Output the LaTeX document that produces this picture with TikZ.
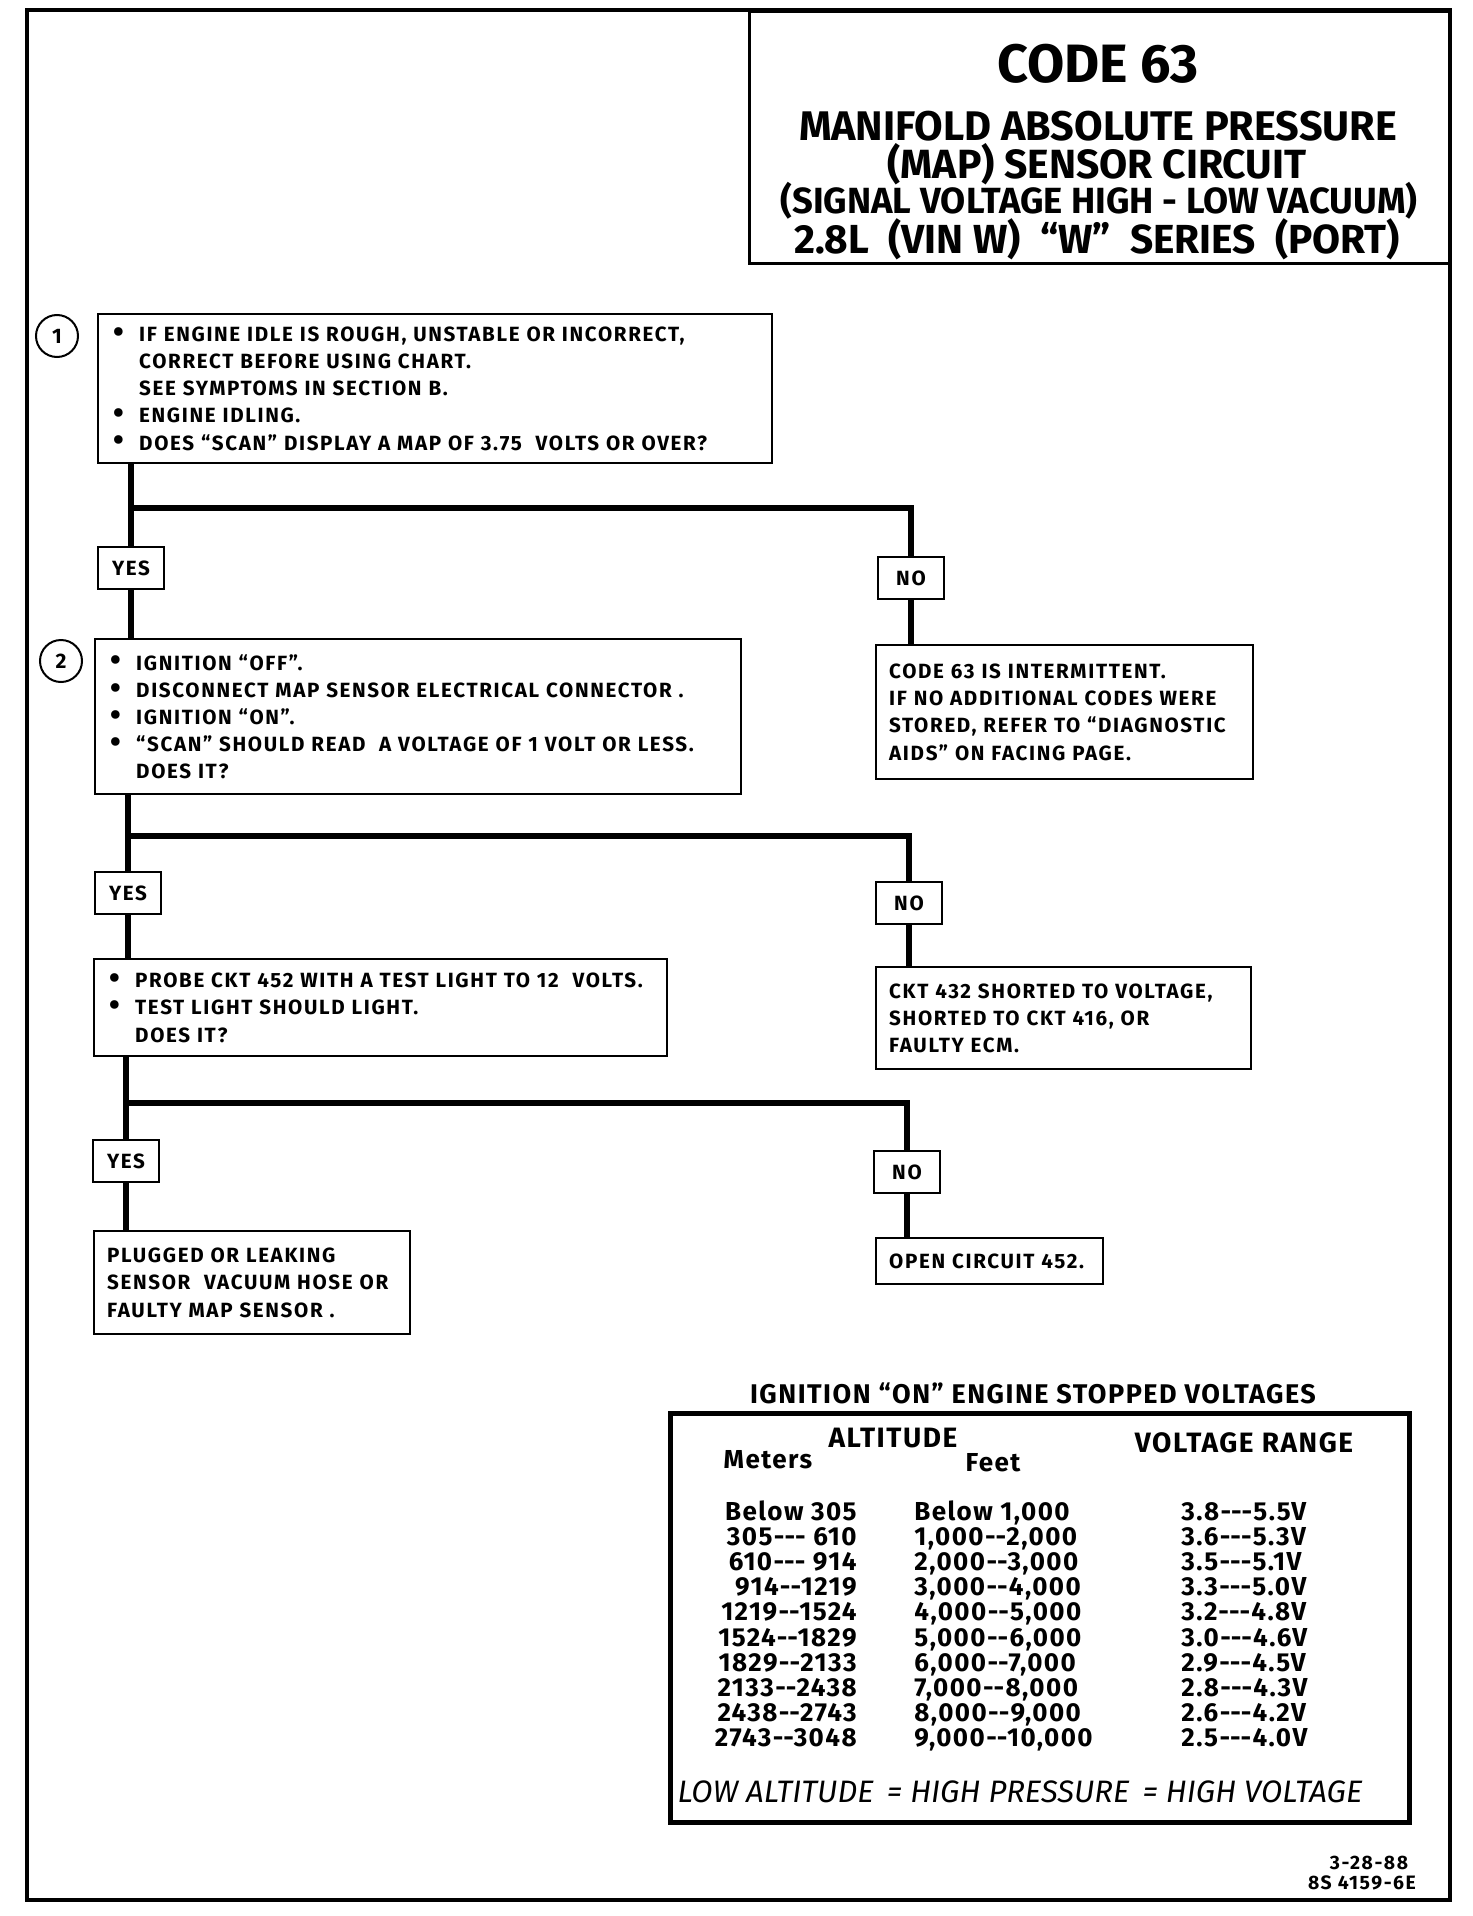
\documentclass[tikz,border=0pt]{standalone}
\usepackage{fontspec}
\setmainfont{Fira Sans}
\newfontfamily\spacedfamily{Fira Sans}[LetterSpace=8]
\newfontfamily\tabfamily{Fira Sans}[LetterSpace=5.5]

\newcommand{\boxfont}{\spacedfamily\bfseries\fontsize{10.3}{13.6}\selectfont}
\newcommand{\tabfont}{\tabfamily\bfseries\fontsize{13}{13}\selectfont}
\newcommand{\bul}{\makebox[13pt][l]{\raisebox{-0.4pt}{\scalebox{1.5}{\textbullet}}}}
\newcommand{\nob}{\hspace*{13pt}}
\newcommand{\twohy}{-\kern0pt-}
\newcommand{\threehy}{-\kern0pt-\kern0pt-}

\tikzset{
  flow/.style={line width=3pt},
  stepbox/.style={draw, line width=1.2pt, anchor=north west, align=left,
    inner xsep=7.5pt, inner ysep=0pt, font=\boxfont},
  resbox/.style={stepbox, inner xsep=6.5pt},
  answer/.style={draw, line width=1.2pt, minimum width=33pt,
    minimum height=21pt, inner sep=0pt, font=\boxfont},
  stepnum/.style={circle, draw, line width=1pt, minimum size=21pt,
    inner sep=0pt, font=\bfseries\fontsize{10.5}{10.5}\selectfont},
  titletext/.style={inner sep=0pt},
  tabtext/.style={font=\tabfont, inner sep=0pt, text height=9pt, text depth=2.5pt},
  tabhead/.style={font=\tabfamily\bfseries\fontsize{14}{14}\selectfont, inner sep=0pt},
}

\begin{document}
\begin{tikzpicture}[x=0.5pt, y=-0.5pt]
  \useasboundingbox (0,0) rectangle (1472,1916);

  % page frame and title block
  \draw[line width=1.8pt] (27,10) rectangle (1450,1900);
  \draw[line width=1.5pt] (749,12) rectangle (1450,263);
  \node[titletext, font=\bfseries\fontsize{27}{27}\selectfont] (code) at (1098,64) {CODE 63};
  \node[titletext, font=\bfseries\fontsize{20.7}{20.7}\selectfont] (title1) at (1098,126) {MANIFOLD ABSOLUTE PRESSURE};
  \node[titletext, font=\bfseries\fontsize{20.4}{20.4}\selectfont] (title2) at (1097,164) {(MAP) SENSOR CIRCUIT};
  \node[titletext, font=\bfseries\fontsize{18.2}{18.2}\selectfont] (title3) at (1099,201) {(SIGNAL VOLTAGE HIGH - LOW VACUUM)};
  \node[titletext, font=\bfseries\fontsize{20.3}{20.3}\selectfont] (title4) at (1097,239) {2.8L\ \ (VIN W)\ \ “W”\ \ SERIES\ \ (PORT)};

  % step boxes
  \node[stepnum] (num1) at (57,336) {1};
  \node[stepbox, minimum width=337pt, minimum height=74.5pt, text width=322pt] (step1) at (97,313)
    {\bul IF ENGINE IDLE IS ROUGH, UNSTABLE OR INCORRECT,\\
     \nob CORRECT BEFORE USING CHART.\\
     \nob SEE SYMPTOMS IN SECTION B.\\
     \bul ENGINE IDLING.\\
     \bul DOES “SCAN” DISPLAY A MAP OF 3.75\ \ VOLTS OR OVER?};

  \node[stepnum] (num2) at (61,661) {2};
  \node[stepbox, minimum width=323pt, minimum height=77.5pt, text width=308pt] (step2) at (94,638)
    {\bul IGNITION “OFF”.\\
     \bul DISCONNECT MAP SENSOR ELECTRICAL CONNECTOR .\\
     \bul IGNITION “ON”.\\
     \bul “SCAN” SHOULD READ\ \ A VOLTAGE OF 1 VOLT OR LESS.\\
     \nob DOES IT?};

  \node[stepbox, minimum width=286.5pt, minimum height=48.5pt, text width=271.5pt] (step3) at (93,958)
    {\bul PROBE CKT 452 WITH A TEST LIGHT TO 12\ \ VOLTS.\\
     \bul TEST LIGHT SHOULD LIGHT.\\
     \nob DOES IT?};

  % answers
  \node[answer] (yes1) at (131,568) {YES};
  \node[answer] (no1) at (911,578) {NO};
  \node[answer] (yes2) at (128,893) {YES};
  \node[answer] (no2) at (909,903) {NO};
  \node[answer] (yes3) at (126,1161) {YES};
  \node[answer] (no3) at (907,1172) {NO};

  % results
  \node[resbox, minimum width=188.5pt, minimum height=67pt, text width=175.5pt] (res1) at (875,644)
    {CODE 63 IS INTERMITTENT.\\
     IF NO ADDITIONAL CODES WERE\\
     STORED, REFER TO “DIAGNOSTIC\\
     AIDS” ON FACING PAGE.};
  \node[resbox, minimum width=187.5pt, minimum height=51pt, text width=174.5pt] (res2) at (875,966)
    {CKT 432 SHORTED TO VOLTAGE,\\
     SHORTED TO CKT 416, OR\\
     FAULTY ECM.};
  \node[resbox, minimum width=113.5pt, minimum height=23pt, text width=100.5pt] (res3) at (875,1237)
    {OPEN CIRCUIT 452.};
  \node[resbox, minimum width=158pt, minimum height=51.5pt, text width=145pt] (res4) at (93,1230)
    {PLUGGED OR LEAKING\\
     SENSOR\ \ VACUUM HOSE OR\\
     FAULTY MAP SENSOR .};

  % connectors
  \coordinate (split1) at (131,508);
  \coordinate (split2) at (128,836);
  \coordinate (split3) at (126,1103);
  \draw[flow] (step1.south -| split1) -- (yes1.north);
  \draw[flow] (split1) -| (no1.north);
  \draw[flow] (yes1.south) -- (step2.north -| yes1);
  \draw[flow] (no1.south) -- (res1.north -| no1);
  \draw[flow] (step2.south -| split2) -- (yes2.north);
  \draw[flow] (split2) -| (no2.north);
  \draw[flow] (yes2.south) -- (step3.north -| yes2);
  \draw[flow] (no2.south) -- (res2.north -| no2);
  \draw[flow] (step3.south -| split3) -- (yes3.north);
  \draw[flow] (split3) -| (no3.north);
  \draw[flow] (yes3.south) -- (res4.north -| yes3);
  \draw[flow] (no3.south) -- (res3.north -| no3);

  % voltage table
  \node[tabhead, font=\tabfamily\bfseries\fontsize{13.5}{13.5}\selectfont] (tabtitle) at (1033,1393)
    {IGNITION “ON” ENGINE STOPPED VOLTAGES};
  \node[draw, line width=2.3pt, anchor=north west, minimum width=369.5pt,
    minimum height=204.5pt] (tabbox) at (668,1411) {};
  \node[tabhead] (altitude) at (893,1438) {ALTITUDE};
  \node[tabtext] (meters) at (768,1462) {Meters};
  \node[tabtext] (feet) at (993,1465) {Feet};
  \node[tabhead] (vrange) at (1244,1443) {VOLTAGE RANGE};
  \foreach \m/\f/\v [count=\i from 0] in {
      Below 305/Below 1{,}000/3.8\threehy 5.5V,
      305\threehy\ 610/1{,}000\twohy 2{,}000/3.6\threehy 5.3V,
      610\threehy\ 914/2{,}000\twohy 3{,}000/3.5\threehy 5.1V,
      914\twohy 1219/3{,}000\twohy 4{,}000/3.3\threehy 5.0V,
      1219\twohy 1524/4{,}000\twohy 5{,}000/3.2\threehy 4.8V,
      1524\twohy 1829/5{,}000\twohy 6{,}000/3.0\threehy 4.6V,
      1829\twohy 2133/6{,}000\twohy 7{,}000/2.9\threehy 4.5V,
      2133\twohy 2438/7{,}000\twohy 8{,}000/2.8\threehy 4.3V,
      2438\twohy 2743/8{,}000\twohy 9{,}000/2.6\threehy 4.2V,
      2743\twohy 3048/9{,}000\twohy 10{,}000/2.5\threehy 4.0V} {
    \node[tabtext, anchor=east] (m\i) at (857,{1514+25.1*\i}) {\m};
    \node[tabtext, anchor=west] (f\i) at (914,{1514+25.1*\i}) {\f};
    \node[tabtext, anchor=west] (v\i) at (1181,{1514+25.1*\i}) {\v};
  }
  \node[font=\itshape\fontsize{15.5}{15.5}\selectfont, inner sep=0pt] (rule) at (1020,1792)
    {LOW ALTITUDE\ \,=\ HIGH PRESSURE\ \,=\ HIGH VOLTAGE};

  % drawing number
  \node[font=\spacedfamily\bfseries\fontsize{9.7}{9.7}\selectfont, inner sep=0pt] (date) at (1369,1863) {3-28-88};
  \node[font=\spacedfamily\bfseries\fontsize{9.7}{9.7}\selectfont, inner sep=0pt] (dwg) at (1362,1883) {8S 4159-6E};
\end{tikzpicture}
\end{document}
